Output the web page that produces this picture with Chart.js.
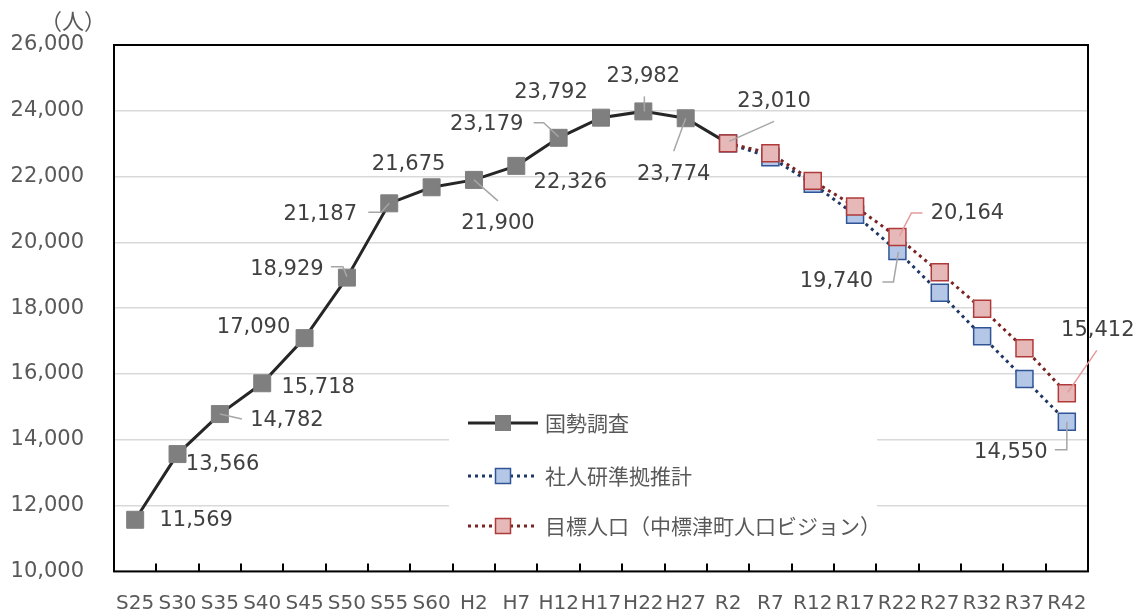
<!DOCTYPE html>
<html>
<head>
<meta charset="utf-8">
<script src="https://cdn.jsdelivr.net/npm/chart.js@4.4.0/dist/chart.umd.min.js"></script>
<style>
  html, body { margin: 0; padding: 0; background: #fff; }
  #wrap { width: 1136px; height: 614px; }
</style>
</head>
<body>
<div id="wrap"><canvas id="chart" width="1136" height="614"></canvas></div>
<script>
const years = ['S25', 'S30', 'S35', 'S40', 'S45', 'S50', 'S55', 'S60', 'H2', 'H7', 'H12', 'H17',
  'H22', 'H27', 'R2', 'R7', 'R12', 'R17', 'R22', 'R27', 'R32', 'R37', 'R42'];

const seriesNames = ['国勢調査', '社人研準拠推計', '目標人口（中標津町人口ビジョン）'];

const census = [11569, 13566, 14782, 15718, 17090, 18929, 21187, 21675, 21900, 22326, 23179, 23792,
  23982, 23774, 23010, null, null, null, null, null, null, null, null];

const ipssProjection = [null, null, null, null, null, null, null, null, null, null, null, null,
  null, null, 23010, 22590, 21780, 20840, 19740, 18470, 17150, 15850, 14550];

const targetPopulation = [null, null, null, null, null, null, null, null, null, null, null, null,
  null, null, 23010, 22710, 21870, 21090, 20164, 19090, 17980, 16780, 15412];

const yMin = 10000;
const yMax = 26000;
const yStep = 2000;
const unitLabel = '（人）';

// which points get a value label: dataset, point index, text offset, leader line (relative px)
const labelSpecs = [
  { ds: 0, i: 0, dx: 61, dy: 1 },
  { ds: 0, i: 1, dx: 45, dy: 10 },
  { ds: 0, i: 2, dx: 67, dy: 6, leader: [[0, 0], [22, 5]] },
  { ds: 0, i: 3, dx: 56, dy: 4 },
  { ds: 0, i: 4, dx: -51, dy: -11 },
  { ds: 0, i: 5, dx: -60, dy: -8, leader: [[-16, -11], [-4, -11], [0, -1]] },
  { ds: 0, i: 6, dx: -69, dy: 11, leader: [[-21, 9], [-8, 9], [0, 0]] },
  { ds: 0, i: 7, dx: -23, dy: -23 },
  { ds: 0, i: 8, dx: 24, dy: 44, leader: [[0, 0], [24, 21]] },
  { ds: 0, i: 9, dx: 54, dy: 17 },
  { ds: 0, i: 10, dx: -72, dy: -13, leader: [[-25, -15], [-15, -15], [0, -1]] },
  { ds: 0, i: 11, dx: -50, dy: -25 },
  { ds: 0, i: 12, dx: 0, dy: -35, leader: [[1, -15], [1, 0]] },
  { ds: 0, i: 13, dx: -12, dy: 56, leader: [[0, 0], [-12, 33]] },
  { ds: 0, i: 14, dx: 46, dy: -42, leader: [[1, -2], [46, -22]] },
  { ds: 2, i: 18, dx: 70, dy: -23, leader: [[2, -1], [14, -24], [25, -24]], pink: true },
  { ds: 1, i: 18, dx: -61, dy: 31, leader: [[1, 1], [-4, 31], [-15, 31]] },
  { ds: 2, i: 22, dx: 31, dy: -63, leader: [[1, -1], [30, -43]], pink: true },
  { ds: 1, i: 22, dx: -56, dy: 31, leader: [[0, 0], [0, 28], [-12, 28]] },
];

const numFont = '"DejaVu Sans", Verdana, sans-serif';
const jpFont = '"Noto Sans CJK JP", sans-serif';

function fmt(v) {
  return v.toLocaleString('en-US');
}

const decorPlugin = {
  id: 'decor',
  beforeDatasetsDraw(chart) {
    const { ctx, chartArea: a, scales: { x } } = chart;
    ctx.save();
    // legend backdrop hides gridlines
    ctx.fillStyle = '#fff';
    ctx.fillRect(449, 398, 428, 150);
    // frame
    ctx.strokeStyle = '#000';
    ctx.lineWidth = 2;
    ctx.strokeRect(a.left, a.top, a.right - a.left, a.bottom - a.top);
    // inner tick marks between categories
    for (let k = 1; k < years.length; k++) {
      const bx = Math.round((x.getPixelForTick(k - 1) + x.getPixelForTick(k)) / 2);
      ctx.beginPath();
      ctx.moveTo(bx, a.bottom);
      ctx.lineTo(bx, a.bottom - 8);
      ctx.stroke();
    }
    ctx.restore();
  },
  afterDatasetsDraw(chart) {
    const { ctx } = chart;
    ctx.save();
    // leaders + value labels
    labelSpecs.forEach((s) => {
      const pt = chart.getDatasetMeta(s.ds).data[s.i];
      const value = chart.data.datasets[s.ds].data[s.i];
      if (s.leader) {
        ctx.strokeStyle = s.pink ? '#e39a9c' : '#a6a6a6';
        ctx.lineWidth = 1.5;
        ctx.beginPath();
        s.leader.forEach(([lx, ly], j) => {
          if (j === 0) ctx.moveTo(pt.x + lx, pt.y + ly);
          else ctx.lineTo(pt.x + lx, pt.y + ly);
        });
        ctx.stroke();
      }
      ctx.fillStyle = '#404040';
      ctx.font = '21px ' + numFont;
      ctx.textAlign = 'center';
      ctx.textBaseline = 'middle';
      ctx.fillText(fmt(value), pt.x + s.dx, pt.y + s.dy);
    });

    // legend
    const rows = [423, 476, 526];
    chart.data.datasets.forEach((d, k) => {
      const y = rows[k];
      ctx.strokeStyle = d.borderColor;
      ctx.lineWidth = d.borderWidth;
      ctx.setLineDash(d.borderDash || []);
      ctx.beginPath();
      ctx.moveTo(468, y);
      ctx.lineTo(538, y);
      ctx.stroke();
      ctx.setLineDash([]);
      const s = 7.5;
      ctx.fillStyle = d.pointBackgroundColor;
      ctx.fillRect(503 - s, y - s, 2 * s, 2 * s);
      ctx.strokeStyle = d.pointBorderColor;
      ctx.lineWidth = d.pointBorderWidth;
      ctx.strokeRect(503 - s, y - s, 2 * s, 2 * s);
      ctx.fillStyle = '#595959';
      ctx.font = '21px ' + jpFont;
      ctx.textAlign = 'left';
      ctx.textBaseline = 'middle';
      ctx.fillText(d.label, 545, y);
    });

    // unit
    ctx.fillStyle = '#595959';
    ctx.font = '22px ' + jpFont;
    ctx.textAlign = 'center';
    ctx.textBaseline = 'middle';
    ctx.fillText(unitLabel, 73, 21);
    ctx.restore();
  },
};

new Chart(document.getElementById('chart'), {
  type: 'line',
  data: {
    labels: years,
    datasets: [
      {
        label: seriesNames[0],
        data: census,
        order: 2,
        borderColor: '#262626',
        borderWidth: 3,
        pointStyle: 'rect',
        pointRadius: 12,
        pointBackgroundColor: '#7f7f7f',
        pointBorderColor: '#7f7f7f',
        pointBorderWidth: 1,
      },
      {
        label: seriesNames[1],
        data: ipssProjection,
        order: 1,
        borderColor: '#203864',
        borderWidth: 3,
        borderDash: [3, 4],
        pointStyle: 'rect',
        pointRadius: 12,
        pointBackgroundColor: '#b4c7e7',
        pointBorderColor: '#2f5597',
        pointBorderWidth: 1.5,
      },
      {
        label: seriesNames[2],
        data: targetPopulation,
        order: 0,
        borderColor: '#7a2424',
        borderWidth: 3,
        borderDash: [3, 4],
        pointStyle: 'rect',
        pointRadius: 12,
        pointBackgroundColor: '#e6b9b8',
        pointBorderColor: '#b03a3a',
        pointBorderWidth: 1.5,
      },
    ],
  },
  options: {
    responsive: false,
    animation: false,
    layout: { padding: { top: 45, right: 48, left: 0, bottom: 0 } },
    plugins: {
      legend: { display: false },
      tooltip: { enabled: false },
    },
    elements: { line: { tension: 0 } },
    scales: {
      x: {
        offset: true,
        grid: { display: false, drawTicks: false },
        border: { display: false },
        ticks: {
          autoSkip: false,
          maxRotation: 0,
          padding: 20,
          color: '#595959',
          font: { family: numFont, size: 20 },
        },
        afterFit: (scale) => { scale.height = 39; },
      },
      y: {
        min: yMin,
        max: yMax,
        grid: { color: '#d9d9d9', lineWidth: 1.5, drawTicks: false },
        border: { display: false },
        ticks: {
          stepSize: yStep,
          padding: 30,
          color: '#595959',
          font: { family: numFont, size: 21 },
          callback: (v) => fmt(v),
        },
        afterFit: (scale) => { scale.width = 114; },
      },
    },
  },
  plugins: [decorPlugin],
});
</script>
</body>
</html>
